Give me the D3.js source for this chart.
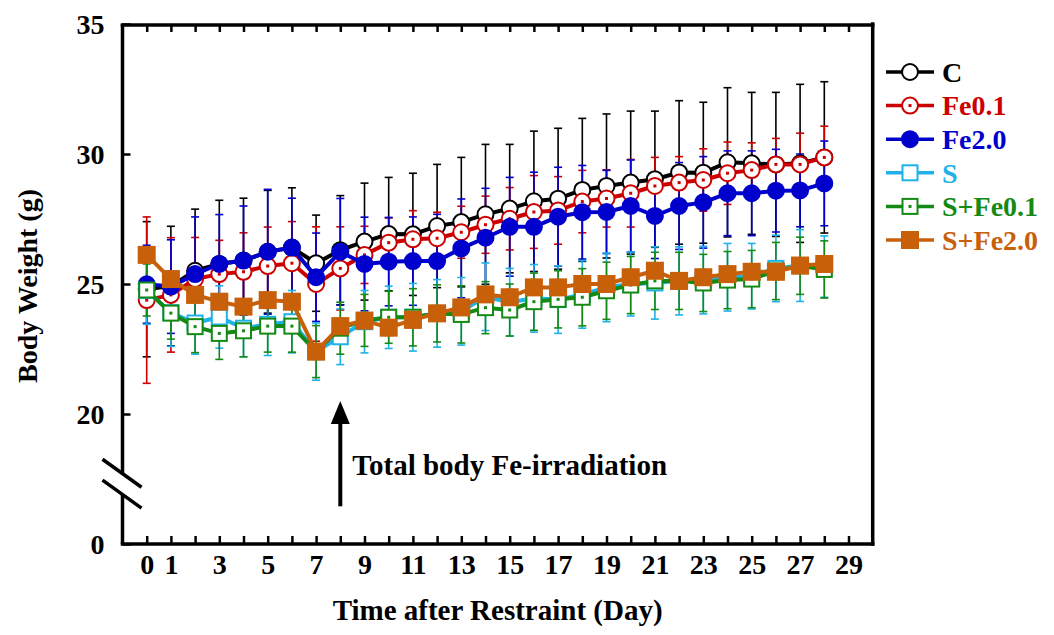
<!DOCTYPE html>
<html>
<head>
<meta charset="utf-8">
<script src="https://cdn.jsdelivr.net/npm/d3@7"></script>
<style>
  body { margin: 0; background: #fff; }
  svg { display: block; font-family: "Liberation Serif", "Times New Roman", serif; font-weight: bold; }
</style>
</head>
<body>
<svg width="1054" height="635"></svg>
<script>
// ---- data ----
var days = d3.range(0, 29);
var seriesNames = ["C", "Fe0.1", "Fe2.0", "S", "S+Fe0.1", "S+Fe2.0"];

var cMean   = [24.8, 24.92, 25.51, 25.77, 25.9, 26.24, 26.4, 25.8, 26.3, 26.63, 26.92, 26.91, 27.23, 27.38, 27.68, 27.9, 28.18, 28.28, 28.62, 28.77, 28.9, 29.03, 29.29, 29.28, 29.68, 29.64, 29.6, 29.64, 29.87];
var cSd     = [2.6, 2.3, 2.37, 2.45, 2.4, 2.36, 2.3, 1.85, 2.1, 2.25, 2.18, 2.35, 2.37, 2.49, 2.69, 2.47, 2.7, 2.71, 2.75, 2.77, 2.75, 2.62, 2.76, 2.71, 2.87, 2.73, 2.77, 3.04, 2.91];
var fe01Mean = [24.38, 24.58, 25.19, 25.38, 25.47, 25.69, 25.8, 25.0, 25.6, 26.12, 26.59, 26.72, 26.76, 26.99, 27.28, 27.51, 27.77, 27.83, 28.17, 28.29, 28.49, 28.77, 28.9, 29.0, 29.26, 29.38, 29.6, 29.6, 29.87];
var fe01Sd   = [3.2, 2.2, 1.6, 1.3, 1.5, 1.5, 1.6, 2.2, 1.6, 1.1, 0.95, 1.1, 1.0, 1.0, 1.1, 1.2, 1.4, 1.3, 1.2, 1.1, 1.3, 1.1, 1.0, 1.2, 1.2, 1.05, 1.0, 1.2, 1.2];
var fe20Mean = [24.99, 24.9, 25.38, 25.77, 25.9, 26.24, 26.4, 25.26, 26.24, 25.77, 25.86, 25.88, 25.88, 26.37, 26.78, 27.2, 27.2, 27.59, 27.76, 27.77, 28.0, 27.62, 28.0, 28.14, 28.49, 28.49, 28.59, 28.6, 28.87];
var fe20Sd   = [1.5, 1.8, 2.2, 1.9, 2.1, 2.4, 1.9, 1.7, 2.05, 1.8, 1.7, 1.7, 1.8, 1.9, 1.9, 1.9, 2.1, 1.9, 1.8, 1.6, 1.77, 1.64, 1.67, 1.76, 1.63, 1.63, 1.59, 1.4, 1.63];
var sMean    = [24.75, 23.9, 23.5, 23.73, 23.3, 23.45, 23.55, 22.4, 22.97, 23.55, 23.72, 23.72, 23.87, 23.95, 24.51, 24.3, 24.45, 24.4, 24.6, 24.87, 25.0, 25.04, 25.12, 25.15, 25.26, 25.3, 25.6, 25.71, 25.67];
var sSd      = [1.3, 1.3, 1.2, 1.2, 1.1, 1.2, 1.2, 1.1, 1.07, 1.2, 1.2, 1.3, 1.3, 1.3, 1.3, 1.3, 1.3, 1.3, 1.3, 1.32, 1.23, 1.39, 1.31, 1.3, 1.3, 1.26, 1.28, 1.38, 1.18];
var sfe01Mean = [24.77, 23.88, 23.36, 23.1, 23.2, 23.38, 23.38, 22.4, 23.3, 23.6, 23.72, 23.72, 23.87, 23.83, 24.09, 24.0, 24.32, 24.41, 24.49, 24.74, 24.96, 25.12, 25.12, 25.04, 25.15, 25.19, 25.5, 25.7, 25.56];
var sfe01Sd   = [1.0, 1.0, 1.0, 1.0, 1.0, 1.0, 1.0, 1.0, 1.0, 1.0, 1.0, 1.1, 1.1, 1.1, 1.0, 1.0, 1.1, 1.1, 1.1, 1.1, 1.1, 1.1, 1.1, 1.1, 1.1, 1.1, 1.1, 1.1, 1.1];
var sfe20Mean = [26.12, 25.19, 24.58, 24.32, 24.13, 24.38, 24.32, 22.4, 23.38, 23.59, 23.32, 23.62, 23.87, 24.1, 24.6, 24.49, 24.87, 24.87, 25.0, 25.0, 25.26, 25.51, 25.12, 25.26, 25.38, 25.47, 25.47, 25.71, 25.77];
var sfe20Sd   = [0.3, 0.3, 0.3, 0.3, 0.3, 0.3, 0.3, 0.3, 0.3, 0.3, 0.3, 0.3, 0.3, 0.3, 0.3, 0.3, 0.3, 0.3, 0.3, 0.3, 0.3, 0.3, 0.3, 0.3, 0.3, 0.3, 0.3, 0.25, 0.25];

var xTickValues = d3.range(0, 30);
var xTickLabels = [0, 1, 3, 5, 7, 9, 11, 13, 15, 17, 19, 21, 23, 25, 27, 29];
var yTickValues = [15, 20, 25, 30, 35];
var yTickLabels = ["0", "20", "25", "30", "35"];   // axis is broken: bottom reads 0

var arrowDay = 8;
var arrowLabel = "Total body Fe-irradiation";

// ---- styles ----
var colors = ["#000000", "#cc0000", "#0000cc", "#1eb2e8", "#148a14", "#c8600a"];
var markers = ["circle-open", "circle-dot", "circle-fill", "square-open", "square-dot", "square-fill"];
var serif = "'Liberation Serif', 'Times New Roman', serif";

var means = [cMean, fe01Mean, fe20Mean, sMean, sfe01Mean, sfe20Mean];
var sds = [cSd, fe01Sd, fe20Sd, sSd, sfe01Sd, sfe20Sd];

var series = seriesNames.map(function (name, i) {
    return {
        name: name,
        color: colors[i],
        marker: markers[i],
        values: days.map(function (d, j) { return { day: d, mean: means[i][j], sd: sds[i][j] }; })
    };
});

// ---- layout ----
var svg = d3.select("svg");
var x = d3.scaleLinear().domain([-1, 30]).range([122.5, 872.7]);
var y = d3.scaleLinear().domain([15, 35]).range([544, 24]);
var axisW = 3.5;

// axes (ticks inward)
var gx = svg.append("g")
    .attr("transform", "translate(0," + y(15) + ")")
    .call(d3.axisBottom(x).tickValues(xTickValues).tickSizeInner(-8).tickSizeOuter(0)
        .tickFormat(function (d) { return xTickLabels.indexOf(d) >= 0 ? d : ""; }));
gx.attr("font-family", serif);
gx.select(".domain").remove();
gx.selectAll(".tick line").attr("stroke-width", 2.5);
gx.selectAll(".tick text").attr("y", 30).attr("dy", 0).attr("font-size", 28).attr("fill", "#000");

var gt = svg.append("g")
    .attr("transform", "translate(0," + y(35) + ")")
    .call(d3.axisTop(x).tickValues(xTickValues).tickSizeInner(-8).tickSizeOuter(0).tickFormat(""));
gt.select(".domain").remove();
gt.selectAll(".tick line").attr("stroke-width", 2.5);

var gy = svg.append("g")
    .attr("transform", "translate(" + x(-1) + ",0)")
    .call(d3.axisLeft(y).tickValues(yTickValues).tickSizeInner(-8).tickSizeOuter(0).tickPadding(18)
        .tickFormat(function (d, i) { return yTickLabels[i]; }));
gy.attr("font-family", serif);
gy.select(".domain").remove();
gy.selectAll(".tick line").attr("stroke-width", 2.5);
gy.selectAll(".tick text").attr("font-size", 28).attr("fill", "#000").attr("dy", "0.33em");

// frame
var frame = svg.append("g").attr("stroke", "#000").attr("stroke-width", axisW).attr("stroke-linecap", "square");
frame.append("line").attr("x1", x(-1)).attr("x2", x(30)).attr("y1", y(35) + 1).attr("y2", y(35) + 1);
frame.append("line").attr("x1", x(-1)).attr("x2", x(30)).attr("y1", y(15)).attr("y2", y(15));
frame.append("line").attr("x1", x(30)).attr("x2", x(30)).attr("y1", y(35)).attr("y2", y(15));
// left axis with a break
var breakHi = 17.72, breakLo = 16.92;
frame.append("line").attr("x1", x(-1)).attr("x2", x(-1)).attr("y1", y(35)).attr("y2", y(breakHi)).attr("stroke-linecap", "butt");
frame.append("line").attr("x1", x(-1)).attr("x2", x(-1)).attr("y1", y(breakLo)).attr("y2", y(15)).attr("stroke-linecap", "butt");
[breakHi, breakLo].forEach(function (v) {
    frame.append("line")
        .attr("stroke-linecap", "butt")
        .attr("x1", x(-1) - 20).attr("y1", y(v) - 14)
        .attr("x2", x(-1) + 19).attr("y2", y(v) + 14);
});

// axis titles
svg.append("text")
    .attr("x", (x(-1) + x(30)) / 2).attr("y", 620)
    .attr("text-anchor", "middle").attr("font-size", 29)
    .text("Time after Restraint (Day)");
svg.append("text")
    .attr("transform", "translate(37," + ((y(35) + y(15)) / 2 + 2) + ") rotate(-90)")
    .attr("text-anchor", "middle").attr("font-size", 28)
    .text("Body Weight (g)");

// error bars
var plot = svg.append("g");
series.forEach(function (s) {
    var eb = plot.append("g").attr("stroke", s.color).attr("stroke-width", 1.6);
    s.values.forEach(function (d) {
        var cx = x(d.day), top = y(d.mean + d.sd), bot = y(d.mean - d.sd);
        eb.append("line").attr("x1", cx).attr("x2", cx).attr("y1", top).attr("y2", bot);
        eb.append("line").attr("x1", cx - 4).attr("x2", cx + 4).attr("y1", top).attr("y2", top);
        eb.append("line").attr("x1", cx - 4).attr("x2", cx + 4).attr("y1", bot).attr("y2", bot);
    });
});

var line = d3.line().x(function (d) { return x(d.day); }).y(function (d) { return y(d.mean); });

function drawMarker(g, type, color, cx, cy) {
    if (type.indexOf("circle") === 0) {
        g.append("circle").attr("cx", cx).attr("cy", cy).attr("r", 8)
            .attr("fill", type === "circle-fill" ? color : "#fff")
            .attr("stroke", color).attr("stroke-width", 2);
    } else {
        var h = type === "square-fill" ? 8 : 7.5;
        g.append("rect").attr("x", cx - h).attr("y", cy - h).attr("width", 2 * h).attr("height", 2 * h)
            .attr("fill", type === "square-fill" ? color : "#fff")
            .attr("stroke", color).attr("stroke-width", 2);
    }
    if (type.indexOf("dot") > 0) {
        g.append("rect").attr("x", cx - 1.5).attr("y", cy - 1.5).attr("width", 3).attr("height", 3).attr("fill", color);
    }
}

series.forEach(function (s) {
    var g = plot.append("g");
    g.append("path").datum(s.values)
        .attr("d", line).attr("fill", "none")
        .attr("stroke", s.color).attr("stroke-width", 4).attr("stroke-linejoin", "round");
    s.values.forEach(function (d) { drawMarker(g, s.marker, s.color, x(d.day), y(d.mean)); });
});

// arrow annotation
var ax = x(arrowDay);
svg.append("line").attr("x1", ax).attr("x2", ax).attr("y1", y(16.45)).attr("y2", y(19.7))
    .attr("stroke", "#000").attr("stroke-width", 4);
svg.append("path")
    .attr("d", "M" + ax + "," + y(20.5) + " L" + (ax - 9.5) + "," + y(19.62) + " L" + (ax + 9.5) + "," + y(19.62) + " Z")
    .attr("fill", "#000");
svg.append("text").attr("x", ax + 12).attr("y", 475).attr("font-size", 29).text(arrowLabel);

// legend
var legend = svg.append("g").attr("transform", "translate(886,72)");
series.forEach(function (s, i) {
    var row = legend.append("g").attr("transform", "translate(0," + (i * 33.6) + ")");
    row.append("line").attr("x1", 0).attr("x2", 48).attr("y1", 0).attr("y2", 0)
        .attr("stroke", s.color).attr("stroke-width", 3.5);
    drawMarker(row, s.marker, s.color, 24, 0);
    row.append("text").attr("x", 56).attr("y", 0).attr("dy", "0.35em")
        .attr("font-size", 28).attr("fill", s.color).text(s.name);
});
</script>
</body>
</html>
